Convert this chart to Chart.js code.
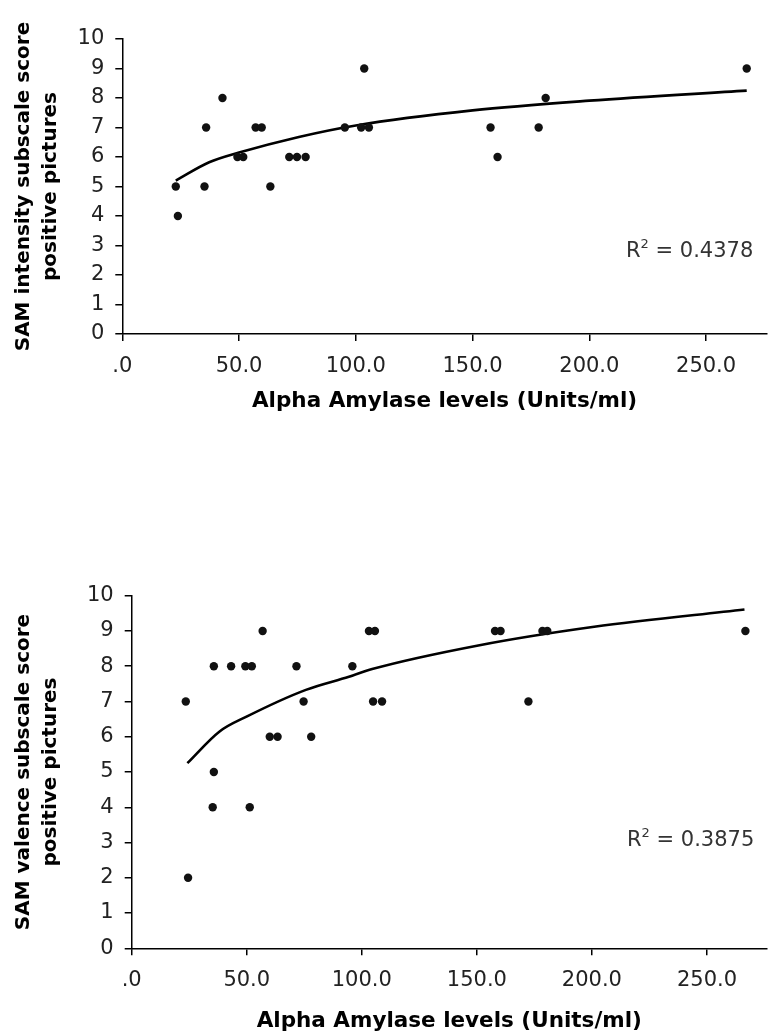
<!DOCTYPE html>
<html><head><meta charset="utf-8">
<script src="https://cdn.jsdelivr.net/npm/chart.js@4.4.1/dist/chart.umd.min.js"></script>
<style>
html,body{margin:0;padding:0;background:#fff;}
body{width:771px;height:1036px;position:relative;overflow:hidden;font-family:"DejaVu Sans",Verdana,sans-serif;}
.wrap{position:absolute;left:0;width:771px;}
#w1{top:0;height:430px;}
#w2{top:540px;height:496px;}
.r2{position:absolute;font-family:"DejaVu Sans",Verdana,sans-serif;font-size:21px;line-height:24px;color:#333;white-space:nowrap;}
.r2 sup{font-size:13px;line-height:0;vertical-align:0;position:relative;top:-9px;}
</style></head>
<body>
<div class="wrap" id="w1"><canvas id="c1" width="771" height="430"></canvas></div>
<div class="wrap" id="w2"><canvas id="c2" width="771" height="496"></canvas></div>
<div class="r2" id="r2a" style="left:626px;top:238px;">R<sup>2</sup> = 0.4378</div>
<div class="r2" id="r2b" style="left:627px;top:827px;">R<sup>2</sup> = 0.3875</div>
<script>
// ---- Data ----
const topAmylase = [22.9, 23.8, 35.2, 35.9, 42.9, 49.3, 51.8, 57.1, 59.7, 63.4, 71.5, 74.8, 78.5, 95.3, 102.3, 103.6, 105.6, 157.7, 160.7, 178.3, 181.3, 267.4];
const topIntensity = [5, 4, 5, 7, 8, 6, 6, 7, 7, 5, 6, 6, 6, 7, 7, 9, 7, 7, 6, 7, 8, 9];
const topTrendX = [22.9, 37.2, 50, 75.6, 100, 150, 200, 267.4];
const topTrendY = [5.20, 5.82, 6.15, 6.68, 7.07, 7.58, 7.91, 8.25];
const topR2 = "0.4378";

const bottomAmylase = [23.5, 24.5, 35.2, 35.7, 35.7, 43.2, 49.4, 51.3, 52.2, 56.9, 60.0, 63.4, 71.6, 74.7, 78.0, 95.9, 103.1, 104.9, 105.7, 108.8, 157.9, 160.3, 172.4, 178.5, 180.6, 266.7];
const bottomValence = [7, 2, 4, 8, 5, 8, 8, 4, 8, 9, 6, 6, 8, 7, 6, 8, 9, 7, 9, 7, 9, 9, 7, 9, 9, 9];
const bottomTrendX = [24.2, 38.2, 49.9, 75.7, 94.4, 104.5, 150.6, 201, 266.3];
const bottomTrendY = [5.25, 6.15, 6.57, 7.33, 7.70, 7.92, 8.59, 9.12, 9.61];
const bottomR2 = "0.3875";

const xTicks = [0, 50, 100, 150, 200, 250];
const xTickLabels = ['.0', '50.0', '100.0', '150.0', '200.0', '250.0'];
const yTicks = [0, 1, 2, 3, 4, 5, 6, 7, 8, 9, 10];
const xTitle = 'Alpha Amylase levels (Units/ml)';
const topYTitle = ['SAM intensity subscale score', 'positive pictures'];
const bottomYTitle = ['SAM valence subscale score', 'positive pictures'];

// ---- Chart builder ----
function makeChart(id, xs, ys, tx, ty, yTitle, g) {
  const pts = xs.map((x, i) => ({x: x, y: ys[i]}));
  const trend = tx.map((x, i) => ({x: x, y: ty[i]}));
  return new Chart(document.getElementById(id), {
    type: 'scatter',
    data: {datasets: [
      {type: 'line', data: trend, borderColor: '#000', borderWidth: 2.6, pointRadius: 0, fill: false,
       cubicInterpolationMode: 'monotone', order: 2},
      {data: pts, backgroundColor: '#111', borderColor: '#111', pointRadius: 4.2, pointBorderWidth: 0, order: 1}
    ]},
    options: {
      responsive: false, animation: false, devicePixelRatio: 1,
      layout: {padding: {top: g.padTop, right: 0, bottom: 0, left: 0}},
      plugins: {legend: {display: false}, tooltip: {enabled: false}},
      scales: {
        x: {
          type: 'linear', min: 0, max: 276,
          afterBuildTicks: s => { s.ticks = xTicks.map(v => ({value: v})); },
          afterFit: s => { s.height = g.xAxisH; },
          ticks: {callback: v => xTickLabels[xTicks.indexOf(v)], color: '#222', padding: 13,
                  font: {family: 'DejaVu Sans', size: 21}, maxRotation: 0, autoSkip: false},
          grid: {drawOnChartArea: false, drawTicks: true, tickLength: 7, color: '#000', lineWidth: 1.5},
          border: {color: '#000', width: 1.5},
          title: {display: true, text: xTitle, color: '#000', padding: {top: 0, bottom: g.xTitlePad},
                  font: {family: 'DejaVu Sans', size: 21.5, weight: 'bold', lineHeight: 1.2}}
        },
        y: {
          type: 'linear', min: 0, max: 10,
          afterBuildTicks: s => { s.ticks = yTicks.map(v => ({value: v})); },
          afterFit: s => { s.width = g.yAxisW; },
          ticks: {color: '#222', padding: 11, font: {family: 'DejaVu Sans', size: 21}},
          grid: {drawOnChartArea: false, drawTicks: true, tickLength: 7, color: '#000', lineWidth: 1.5},
          border: {color: '#000', width: 1.5},
          title: {display: true, text: yTitle, color: '#000', padding: {top: 10, bottom: 0},
                  font: {family: 'DejaVu Sans', size: 20, weight: 'bold', lineHeight: 1.35}}
        }
      }
    }
  });
}

makeChart('c1', topAmylase, topIntensity, topTrendX, topTrendY, topYTitle,
  {padTop: 39, xAxisH: 96, yAxisW: 122.3, xTitlePad: 16});
makeChart('c2', bottomAmylase, bottomValence, bottomTrendX, bottomTrendY, bottomYTitle,
  {padTop: 55.7, xAxisH: 87.7, yAxisW: 131.7, xTitlePad: 2});
</script>
</body></html>
